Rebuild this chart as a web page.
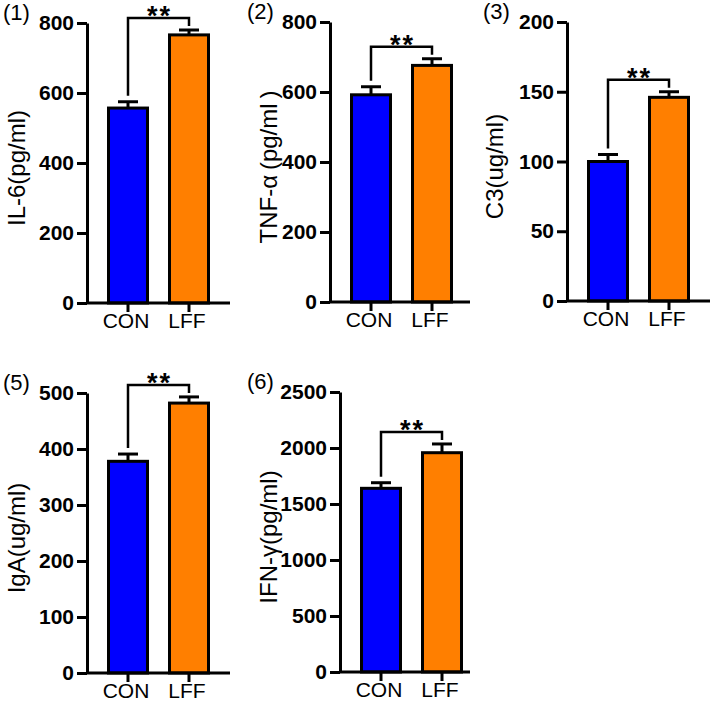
<!DOCTYPE html>
<html lang="en">
  <head>
    <meta charset="utf-8" />
    <title>Cytokine bar charts</title>
    <script src="https://cdn.jsdelivr.net/npm/d3@7"></script>
    <style>
      body { margin: 0; background: #fff; }
      text { font-family: Arial, "Liberation Sans", sans-serif; }
    </style>
  </head>
  <body>
    <div id="root"></div>

    <script type="text/javascript">
      /************************************
       * data
       ************************************/
      const groups = ["CON", "LFF"];
      const panelTags = ["(1)", "(2)", "(3)", "(5)", "(6)"];
      const yLabels = ["IL-6(pg/ml)", "TNF-α\u2009(pg/ml\u2009)", "C3(ug/ml)", "IgA(ug/ml)", "IFN-γ(pg/ml)"];
      const means = [[557, 766], [592, 676], [100, 146], [378, 482], [1640, 1958]];
      const sems = [[18, 14], [23, 19], [5, 4], [13, 11], [50, 78]];
      const yMax = [800, 800, 200, 500, 2500];
      const tickStep = [200, 200, 50, 100, 500];
      const signif = ["**", "**", "**", "**", "**"];

      const colors = ["#0000ff", "#ff7f00"];

      // layout of each panel (axis x, top, bottom, x-axis end, tag x, label x)
      const layout = [
        { ax: 87, top: 23, bottom: 303, right: 230, tagX: 3, labX: 25 },
        { ax: 330, top: 22, bottom: 302, right: 470, tagX: 247, labX: 277 },
        { ax: 567, top: 22, bottom: 301, right: 710, tagX: 483, labX: 503 },
        { ax: 87, top: 393, bottom: 673, right: 230, tagX: 3, labX: 25 },
        { ax: 340, top: 392, bottom: 672, right: 470, tagX: 247, labX: 277 },
      ];

      const width = 714;
      const height = 703;
      const barWidth = 39;
      const capWidth = 20;

      const svg = d3
        .select("#root")
        .append("svg")
        .attr("width", width)
        .attr("height", height);

      layout.forEach(function (L, i) {
        const g = svg.append("g");

        const x = d3
          .scalePoint()
          .domain(groups)
          .range([L.ax + 41, L.ax + 102]);

        const y = d3
          .scaleLinear()
          .domain([0, yMax[i]])
          .range([L.bottom, L.top]);

        const rows = groups.map(function (name, k) {
          return { name: name, mean: means[i][k], sem: sems[i][k], color: colors[k] };
        });

        // error bars (upper half only, drawn first so bar covers the stem)
        rows.forEach(function (d) {
          g.append("line")
            .attr("x1", x(d.name))
            .attr("x2", x(d.name))
            .attr("y1", y(d.mean))
            .attr("y2", y(d.mean + d.sem))
            .attr("stroke", "#000")
            .attr("stroke-width", 3);
          g.append("line")
            .attr("x1", x(d.name) - capWidth / 2)
            .attr("x2", x(d.name) + capWidth / 2)
            .attr("y1", y(d.mean + d.sem))
            .attr("y2", y(d.mean + d.sem))
            .attr("stroke", "#000")
            .attr("stroke-width", 3);
        });

        // bars
        g.selectAll("rect")
          .data(rows)
          .enter()
          .append("rect")
          .attr("x", (d) => x(d.name) - barWidth / 2)
          .attr("y", (d) => y(d.mean))
          .attr("width", barWidth)
          .attr("height", (d) => y(0) - y(d.mean))
          .attr("fill", (d) => d.color)
          .attr("stroke", "#000")
          .attr("stroke-width", 3);

        // y axis
        const yAxis = g
          .append("g")
          .attr("transform", `translate(${L.ax},0)`)
          .call(
            d3
              .axisLeft(y)
              .tickValues(d3.range(0, yMax[i] + 1, tickStep[i]))
              .tickFormat(d3.format("d"))
              .tickSize(10)
              .tickSizeOuter(0)
              .tickPadding(3)
          );
        yAxis.select(".domain").attr("stroke-width", 3);
        yAxis.selectAll(".tick line").attr("stroke-width", 3);
        yAxis
          .selectAll(".tick text")
          .attr("font-size", 21)
          .attr("font-weight", "bold")
          .attr("fill", "#000")
          .style("font-family", "Arial, 'Liberation Sans', sans-serif");

        // x axis
        g.append("line")
          .attr("x1", L.ax)
          .attr("x2", L.right)
          .attr("y1", L.bottom)
          .attr("y2", L.bottom)
          .attr("stroke", "#000")
          .attr("stroke-width", 3);
        groups.forEach(function (name) {
          g.append("line")
            .attr("x1", x(name))
            .attr("x2", x(name))
            .attr("y1", L.bottom)
            .attr("y2", L.bottom + 9)
            .attr("stroke", "#000")
            .attr("stroke-width", 3);
          g.append("text")
            .attr("x", x(name) - 2)
            .attr("y", L.bottom + 25)
            .attr("text-anchor", "middle")
            .attr("font-size", 21)
            .text(name);
        });

        // significance bracket
        const tops = rows.map((d) => y(d.mean + d.sem));
        const by = Math.min(tops[0], tops[1]) - 12;
        g.append("path")
          .attr(
            "d",
            `M${x(groups[0])},${tops[0] - 6}V${by}H${x(groups[1])}V${tops[1] - 4}`
          )
          .attr("fill", "none")
          .attr("stroke", "#000")
          .attr("stroke-width", 2.5);
        g.append("text")
          .attr("x", (x(groups[0]) + x(groups[1])) / 2 + 1)
          .attr("y", by + 7)
          .attr("text-anchor", "middle")
          .attr("font-size", 27)
          .attr("letter-spacing", 2)
          .attr("font-weight", "bold")
          .text(signif[i]);

        // panel tag
        g.append("text")
          .attr("x", L.tagX)
          .attr("y", L.top - 3)
          .attr("font-size", 22)
          .text(panelTags[i]);

        // y label
        g.append("text")
          .attr(
            "transform",
            `translate(${L.labX},${(L.top + L.bottom) / 2 + 5}) rotate(-90)`
          )
          .attr("text-anchor", "middle")
          .attr("font-size", 24)
          .text(yLabels[i]);
      });
    </script>
  </body>
</html>
